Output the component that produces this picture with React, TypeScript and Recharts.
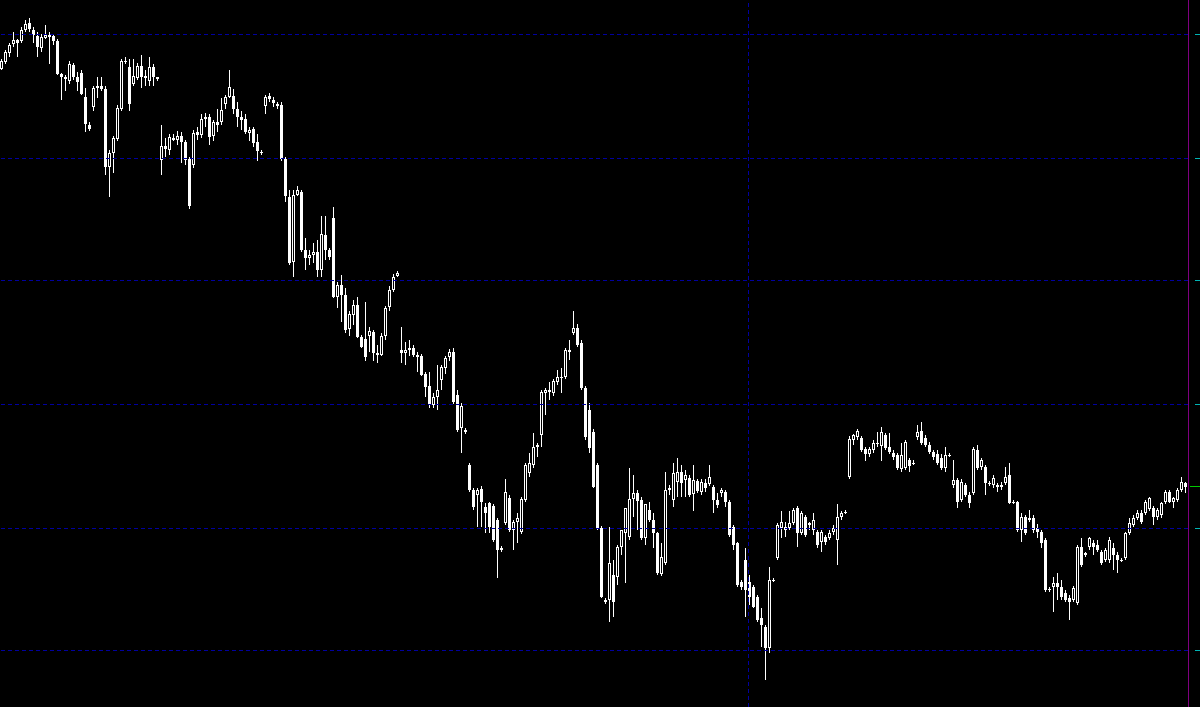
import React from 'react';
import { ComposedChart, Bar, XAxis, YAxis, ReferenceLine } from 'recharts';

// OHLC per bar, oldest first (index units)
const opens = [
  931, 938, 947, 956, 959, 958, 969, 976, 970, 963, 952, 962, 965, 963, 958, 925, 922, 919, 935, 923,
  927, 903, 875, 892, 912, 914, 911, 833, 847, 860, 890, 938, 932, 916, 922, 934, 923, 918, 932, 922,
  840, 854, 850, 862, 860, 864, 858, 840, 835, 867, 865, 880, 882, 863, 878, 877, 895, 903, 903, 890,
  882, 880, 867, 870, 857, 848,
  893, 903, 900, 896, 894, 840, 803, 737, 805, 808, 750, 742, 745, 748, 730, 765, 750, 782, 703, 715,
  705, 670, 685, 695, 663, 660, 663, 668, 647, 645, 664, 692, 710, 723,
  650, 647, 650, 652, 645, 643, 625, 613, 595, 603, 620, 632, 642, 648, 605, 572, 570,
  535, 510, 505, 510, 493, 497, 493, 480, 450, 477, 502, 470, 478, 468, 500, 527, 535, 553, 565, 607,
  610, 607, 618, 623, 622, 648, 667, 672, 657, 612, 590, 567, 535, 472, 400,
  400, 425, 423, 453, 467, 463, 501, 507, 500, 462, 490, 480, 467, 426, 437, 510, 500, 518, 528, 520,
  522, 505, 518, 508, 517, 515, 513, 500, 507, 508, 498, 473, 457, 418, 440,
  418, 413, 403, 382, 373, 352, 420, 442, 472, 473, 472, 477, 492, 467, 483, 475, 470, 468, 458, 463,
  462, 468, 460, 483, 487,
  522, 560, 563, 561, 550, 546, 550, 556, 553, 565, 552, 547, 545, 530, 532, 540, 537, 563, 568, 562,
  555, 548, 546, 541, 532, 545, 515, 520, 500, 515, 505, 507, 550, 533, 533, 517, 515, 515, 513, 517,
  525, 498, 498, 470, 482, 480, 482, 472, 468, 460, 411, 413, 417, 413, 407, 402, 400, 397, 453, 445,
  453, 457, 455, 448, 440, 440, 452, 445, 440, 442, 467, 475, 482, 487, 487, 490, 492, 483, 485, 497,
  508, 498, 500, 510, 517,
];

const highs = [
  940, 950, 957, 967, 960, 972, 980, 981, 973, 967, 965, 975, 968, 965, 960, 926, 924, 938, 937, 928,
  930, 912, 878, 914, 922, 923, 914, 850, 864, 895, 940, 942, 940, 940, 937, 945, 930, 942, 935, 922,
  875, 862, 865, 866, 869, 868, 860, 842, 870, 872, 885, 887, 885, 880, 890, 902, 904, 930, 910, 897,
  888, 885, 873, 872, 865, 850,
  905, 906, 903, 898, 897, 842, 810, 810, 814, 810, 762, 750, 757, 760, 783, 783, 752, 793, 718, 725,
  712, 688, 700, 703, 665, 698, 672, 670, 655, 667, 694, 714, 726, 729,
  672, 658, 660, 655, 648, 645, 627, 627, 607, 635, 634, 644, 651, 652, 610, 597, 572,
  537, 512, 512, 513, 497, 498, 495, 482, 454, 520, 505, 480, 487, 502, 537, 547, 567, 557, 609, 612,
  618, 620, 630, 632, 652, 660, 688, 676, 660, 614, 597, 570, 537, 474, 402,
  473, 440, 455, 470, 492, 532, 525, 510, 503, 495, 498, 487, 468, 457, 528, 515, 537, 542, 535, 530,
  525, 535, 520, 520, 520, 535, 515, 507, 512, 510, 500, 475, 458, 420, 452,
  425, 415, 405, 392, 375, 433, 422, 477, 488, 478, 488, 492, 494, 488, 485, 478, 487, 470, 470, 465,
  470, 475, 495, 488, 490,
  563, 566, 570, 563, 552, 553, 560, 568, 573, 567, 567, 550, 547, 557, 560, 542, 540, 575, 577, 565,
  558, 550, 550, 545, 553, 547, 540, 522, 520, 517, 508, 552, 555, 542, 535, 519, 525, 517, 518, 533,
  537, 500, 499, 487, 484, 490, 485, 476, 470, 462, 413, 423, 427, 420, 410, 405, 414, 455, 462, 448,
  463, 460, 460, 450, 452, 463, 457, 448, 442, 468, 482, 485, 490, 490, 500, 503, 494, 492, 498, 510,
  510, 503, 512, 523, 518,
];

const lows = [
  930, 936, 943, 953, 943, 956, 967, 967, 957, 943, 948, 960, 935, 955, 924, 900, 908, 916, 920, 908,
  904, 867, 869, 888, 902, 908, 825, 803, 827, 858, 888, 936, 888, 914, 920, 912, 913, 913, 913, 919,
  825, 842, 845, 858, 855, 837, 835, 790, 832, 860, 862, 872, 855, 858, 868, 874, 890, 902, 885, 872,
  870, 865, 858, 853, 838, 845,
  885, 897, 892, 890, 838, 797, 735, 722, 804, 748, 730, 735, 737, 723, 723, 740, 740, 702, 692, 678,
  667, 663, 675, 662, 652, 638, 647, 638, 637, 644, 660, 688, 708, 722,
  637, 635, 644, 643, 628, 624, 603, 592, 592, 590, 610, 626, 638, 595, 568, 547, 566,
  508, 490, 473, 473, 467, 467, 458, 422, 448, 475, 468, 450, 457, 466, 498, 523, 532, 543, 553, 585,
  600, 604, 615, 607, 620, 640, 665, 653, 610, 560, 547, 512, 470, 402, 396,
  378, 383, 415, 445, 417, 460, 483, 470, 460, 455, 478, 452, 425, 424, 435, 505, 493, 503, 503, 503,
  503, 488, 506, 505, 508, 513, 487, 492, 503, 493, 463, 450, 413, 410, 383,
  395, 392, 378, 353, 320, 347, 418, 440, 462, 463, 470, 475, 453, 465, 463, 470, 465, 452, 448, 455,
  460, 465, 435, 480, 486,
  520, 555, 560, 548, 538, 543, 547, 553, 538, 550, 545, 540, 530, 527, 530, 527, 535, 560, 555, 553,
  545, 540, 535, 530, 528, 543, 512, 492, 498, 503, 492, 505, 530, 530, 505, 513, 512, 508, 510, 515,
  496, 496, 468, 458, 465, 478, 467, 462, 452, 408, 408, 388, 400, 400, 398, 380, 398, 395, 433, 443,
  450, 445, 448, 435, 438, 437, 430, 427, 438, 440, 465, 473, 480, 476, 485, 488, 475, 480, 482, 495,
  497, 492, 498, 508, 507,
];

const closes = [
  938, 948, 955, 959, 957, 969, 976, 970, 965, 953, 962, 965, 963, 958, 925, 922, 920, 935, 923, 918,
  905, 875, 871, 912, 914, 911, 833, 847, 862, 892, 938, 939, 895, 924, 934, 923, 921, 932, 922, 920,
  854, 850, 862, 860, 864, 858, 840, 793, 867, 865, 880, 882, 863, 878, 875, 890, 902, 913, 890, 882,
  880, 867, 870, 857, 848, 847,
  903, 900, 896, 894, 840, 803, 737, 805, 810, 750, 742, 745, 748, 730, 765, 750, 743, 703, 715, 705,
  670, 685, 695, 663, 653, 642, 668, 647, 645, 664, 692, 710, 723, 727,
  647, 650, 652, 645, 643, 625, 613, 595, 603, 610, 632, 642, 648, 597, 570, 594, 568,
  510, 493, 510, 497, 487, 473, 460, 450, 452, 507, 470, 478, 482, 500, 535, 537, 553, 555, 607, 610,
  608, 618, 623, 622, 650, 650, 672, 655, 612, 563, 552, 513, 472, 403, 398,
  437, 398, 453, 470, 492, 501, 507, 499, 462, 495, 480, 467, 427, 443, 510, 512, 527, 528, 517, 525,
  505, 520, 508, 517, 512, 522, 500, 495, 510, 498, 465, 455, 415, 413, 410,
  403, 393, 380, 375, 352, 420, 419, 475, 478, 470, 477, 490, 467, 487, 465, 477, 480, 455, 468, 458,
  467, 472, 483, 487, 488,
  560, 565, 568, 550, 545, 551, 557, 557, 568, 552, 547, 543, 532, 545, 558, 533, 537, 568, 557, 555,
  547, 543, 537, 532, 545, 545, 520, 498, 517, 505, 497, 550, 532, 540, 517, 515, 522, 513, 515, 523,
  497, 498, 470, 483, 467, 482, 470, 468, 457, 410, 410, 417, 413, 403, 400, 398, 412, 453, 435, 447,
  462, 453, 450, 437, 450, 460, 445, 440, 440, 467, 477, 482, 487, 478, 498, 502, 483, 490, 497, 508,
  498, 502, 510, 518, 513,
];

const barIndex = opens.map((_, i) => i);
const gridLevels = [349, 471, 595, 719, 841, 965];
const separatorBar = 187;
const lastClose = closes[closes.length - 1];

const data = barIndex.map((t, i) => ({
  t,
  open: opens[i],
  high: highs[i],
  low: lows[i],
  close: closes[i],
  range: [lows[i], highs[i]],
}));

const Candle = (props: any) => {
  const { x, y, height, payload } = props;
  if (!payload) return null;
  const { open, close, high, low } = payload;
  const toY = (v: number) => (high === low ? y : y + ((high - v) / (high - low)) * height);
  const left = Math.round(x);
  const wickTop = Math.round(y);
  const wickBottom = Math.round(y + height);
  const bodyTop = Math.round(toY(Math.max(open, close)));
  const bodyBottom = Math.max(bodyTop + 1, Math.round(toY(Math.min(open, close))));
  const up = close > open;
  return (
    <g shapeRendering="crispEdges">
      <rect x={left + 1} y={wickTop} width={1} height={Math.max(1, wickBottom - wickTop)} fill="#fff" />
      <rect x={left} y={bodyTop} width={3} height={bodyBottom - bodyTop} fill="#fff" />
      {up && bodyBottom - bodyTop > 2 && (
        <rect x={left + 1} y={bodyTop + 1} width={1} height={bodyBottom - bodyTop - 2} fill="#000" />
      )}
    </g>
  );
};

const AxisMark = (props: any) => {
  const { x, y, payload } = props;
  const isLast = payload && payload.value === lastClose;
  const row = Math.floor(y);
  return (
    <rect
      x={isLast ? x + 2 : x + 7}
      y={row}
      width={isLast ? 10 : 5}
      height={1}
      fill={isLast ? '#00c800' : '#00b4b4'}
      shapeRendering="crispEdges"
    />
  );
};

export default function App() {
  return (
    <div style={{ position: 'fixed', left: 0, top: 0, width: 1200, height: 707, background: '#000' }}>
      <ComposedChart
        width={1200}
        height={707}
        data={data}
        margin={{ top: 0, right: 0, bottom: 0, left: 0 }}
        barCategoryGap={0}
        barGap={0}
      >
        <XAxis dataKey="t" hide />
        <YAxis
          orientation="right"
          width={12}
          type="number"
          domain={[292.5, 999.5]}
          allowDataOverflow
          ticks={[...gridLevels, lastClose]}
          interval={0}
          tickLine={false}
          tickSize={0}
          tickMargin={0}
          axisLine={{ stroke: '#800080', shapeRendering: 'crispEdges' }}
          tick={<AxisMark />}
        />
        {gridLevels.map((v) => (
          <ReferenceLine
            key={v}
            y={v}
            stroke="#0000a0"
            strokeDasharray="4 3"
            shapeRendering="crispEdges"
          />
        ))}
        <ReferenceLine
          x={separatorBar}
          position="start"
          stroke="#0000a0"
          strokeDasharray="4 3"
          shapeRendering="crispEdges"
        />
        <Bar dataKey="range" shape={<Candle />} isAnimationActive={false} />
      </ComposedChart>
    </div>
  );
}
